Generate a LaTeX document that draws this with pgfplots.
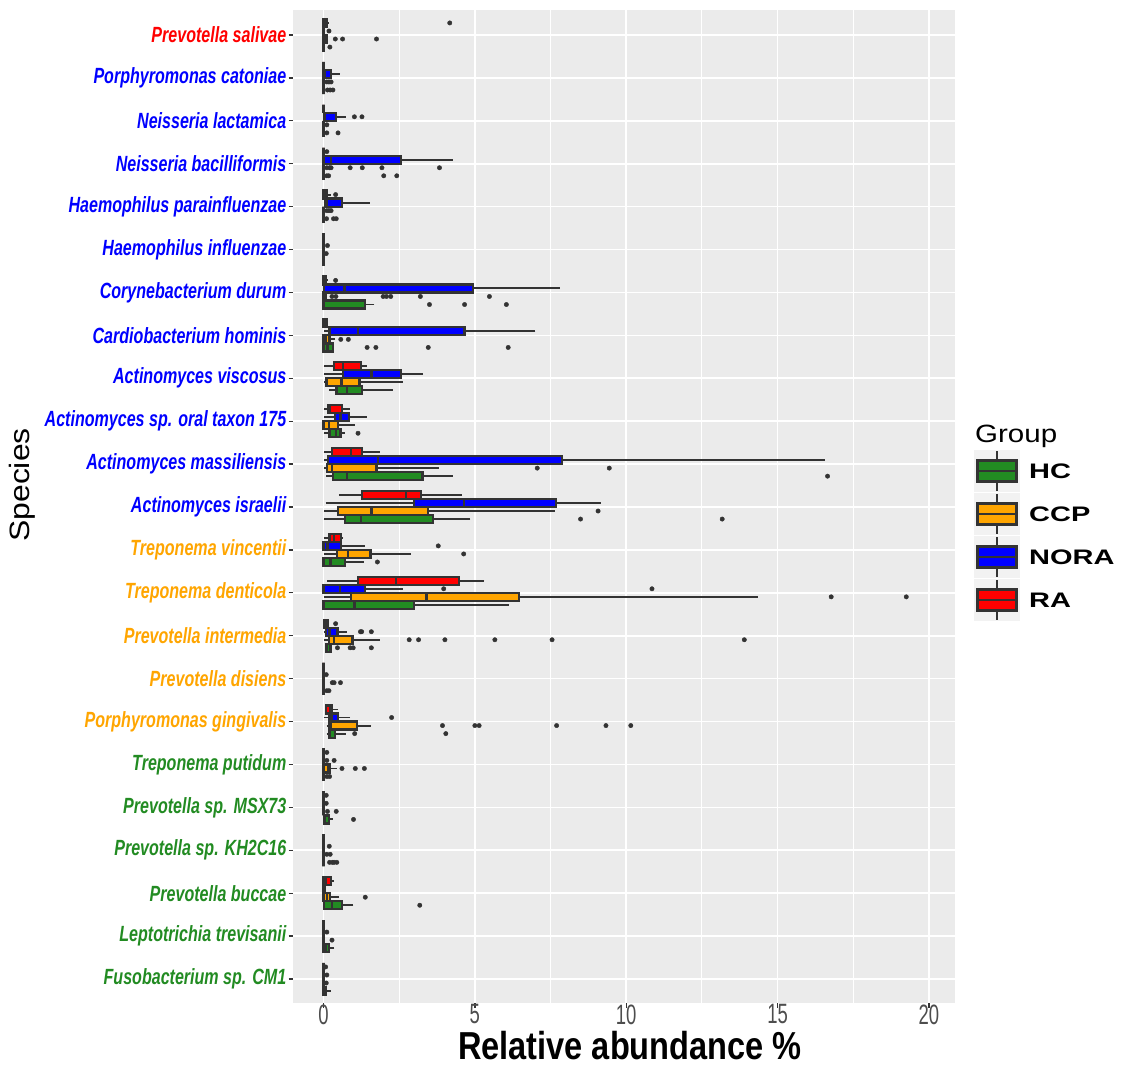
\documentclass[border=0pt]{standalone}
\usepackage{pgfplots}
\usepackage{pgfplotstable}
\pgfplotsset{compat=1.18}
\usepgfplotslibrary{statistics}
\usepackage{fontspec}
\setmainfont{Liberation Sans}
\newfontfamily\labfont[FakeStretch=0.73]{Liberation Sans}
\newfontfamily\tickfont[FakeStretch=0.66]{Liberation Sans}
\newfontfamily\titlefont[FakeStretch=0.835]{Liberation Sans}
\newfontfamily\legfont[FakeStretch=1.38]{Liberation Sans}
\newfontfamily\grpfont[FakeStretch=1.18]{Liberation Sans}
\newfontfamily\specfont[FakeStretch=1.14]{Liberation Sans}
\definecolor{cHC}{HTML}{228B22}
\definecolor{cCCP}{HTML}{FFA500}
\definecolor{cNORA}{HTML}{0000FF}
\definecolor{cRA}{HTML}{FF0000}
\definecolor{dk}{HTML}{333333}
\definecolor{bgc}{HTML}{EBEBEB}
\definecolor{tg}{HTML}{4D4D4D}
\definecolor{keybg}{HTML}{F2F2F2}

\newcommand\bp[7]{\addplot[bxs, fill=#2, boxplot prepared={draw position=#1, lower whisker=#3, lower quartile=#4, median=#5, upper quartile=#6, upper whisker=#7}] coordinates {};}
\newcommand\RA[6]{\bp{#1+0.28125}{cRA}{#2}{#3}{#4}{#5}{#6}}
\newcommand\NO[6]{\bp{#1+0.09375}{cNORA}{#2}{#3}{#4}{#5}{#6}}
\newcommand\CC[6]{\bp{#1-0.09375}{cCCP}{#2}{#3}{#4}{#5}{#6}}
\newcommand\HC[6]{\bp{#1-0.28125}{cHC}{#2}{#3}{#4}{#5}{#6}}

\pgfplotstableread{
x r d
4.17 23 0.28125
0.18 23 0.09375
0.39 23 -0.09375
0.63 23 -0.09375
1.75 23 -0.09375
0.21 23 -0.28125
0.11 22 -0.09375
0.18 22 -0.09375
0.25 22 -0.09375
0.13 22 -0.28125
0.22 22 -0.28125
0.31 22 -0.28125
1.02 21 0.09375
1.27 21 0.09375
0.11 21 -0.09375
0.11 21 -0.28125
0.48 21 -0.28125
0.11 20 0.28125
0.11 20 -0.09375
0.20 20 -0.09375
0.25 20 -0.09375
0.88 20 -0.09375
1.28 20 -0.09375
1.93 20 -0.09375
3.83 20 -0.09375
0.11 20 -0.28125
0.17 20 -0.28125
1.99 20 -0.28125
2.42 20 -0.28125
0.40 19 0.28125
0.11 19 -0.09375
0.18 19 -0.09375
0.25 19 -0.09375
0.10 19 -0.28125
0.33 19 -0.28125
0.42 19 -0.28125
0.13 18 0.09375
0.09 18 -0.09375
0.40 17 0.28125
0.28 17 -0.09375
0.41 17 -0.09375
1.97 17 -0.09375
2.08 17 -0.09375
2.22 17 -0.09375
3.20 17 -0.09375
5.48 17 -0.09375
3.50 17 -0.28125
4.66 17 -0.28125
6.04 17 -0.28125
0.57 16 -0.09375
0.82 16 -0.09375
1.44 16 -0.28125
1.73 16 -0.28125
3.46 16 -0.28125
6.10 16 -0.28125
1.14 14 -0.28125
7.06 13 -0.09375
9.44 13 -0.09375
16.65 13 -0.28125
9.07 12 -0.09375
8.49 12 -0.28125
13.17 12 -0.28125
3.79 11 0.09375
4.63 11 -0.09375
1.78 11 -0.28125
3.97 10 0.09375
10.85 10 0.09375
16.77 10 -0.09375
19.25 10 -0.09375
0.40 9 0.28125
1.22 9 0.09375
1.26 9 0.09375
1.58 9 0.09375
2.83 9 -0.09375
3.14 9 -0.09375
4.01 9 -0.09375
5.66 9 -0.09375
7.55 9 -0.09375
13.90 9 -0.09375
0.46 9 -0.28125
0.88 9 -0.28125
0.98 9 -0.28125
1.58 9 -0.28125
0.09 8 0.09375
0.29 8 -0.09375
0.35 8 -0.09375
0.56 8 -0.09375
0.11 8 -0.28125
0.18 8 -0.28125
2.25 7 0.09375
3.93 7 -0.09375
5.00 7 -0.09375
5.14 7 -0.09375
7.70 7 -0.09375
9.33 7 -0.09375
10.15 7 -0.09375
1.03 7 -0.28125
4.04 7 -0.28125
0.11 6 0.28125
0.11 6 0.09375
0.35 6 0.09375
0.61 6 -0.09375
1.05 6 -0.09375
1.35 6 -0.09375
0.11 6 -0.28125
0.20 6 -0.28125
0.09 5 0.28125
0.09 5 0.09375
0.13 5 -0.09375
0.42 5 -0.09375
0.99 5 -0.28125
0.19 4 0.09375
0.11 4 -0.09375
0.22 4 -0.09375
0.20 4 -0.28125
0.29 4 -0.28125
0.35 4 -0.28125
0.44 4 -0.28125
1.38 3 -0.09375
3.18 3 -0.28125
0.11 2 0.09375
0.28 2 -0.09375
0.07 1 0.28125
0.11 1 0.09375
0.09 1 -0.09375
}\outliers

\begin{document}
\begin{tikzpicture}[x=1pt,y=1pt]
\useasboundingbox (0pt,0pt) rectangle (1131pt,1066pt);
\begin{axis}[
  at={(293pt,63pt)}, anchor=south west,
  width=662pt, height=993pt, scale only axis,
  xmin=-1.008, xmax=20.86, ymin=0.4407, ymax=23.583,
  axis background/.style={fill=bgc},
  axis line style={draw=none},
  grid=both, minor x tick num=1,
  major grid style={white, line width=1.6pt},
  minor grid style={white, line width=0.9pt},
  xtick={0,5,10,15,20}, ytick={1,...,23},
  xtick pos=bottom, ytick pos=left,
  tick align=outside, major tick length=4.5pt, minor tick length=0pt,
  tick style={dk, line width=1.3pt},
  /pgf/number format/assume math mode=true,
  xticklabel style={font=\tickfont\fontsize{28}{28}\selectfont, text=tg, inner sep=0pt, yshift=3pt},
  yticklabel style={font=\labfont\bfseries\itshape\fontsize{22}{22}\selectfont, inner sep=0pt, xshift=-2pt},
  yticklabels={
    \textcolor{cHC}{Fusobacterium sp. CM1},
    \textcolor{cHC}{Leptotrichia trevisanii},
    \textcolor{cHC}{Prevotella buccae},
    \textcolor{cHC}{Prevotella sp. KH2C16},
    \textcolor{cHC}{Prevotella sp. MSX73},
    \textcolor{cHC}{Treponema putidum},
    \textcolor{cCCP}{Porphyromonas gingivalis},
    \textcolor{cCCP}{Prevotella disiens},
    \textcolor{cCCP}{Prevotella intermedia},
    \textcolor{cCCP}{Treponema denticola},
    \textcolor{cCCP}{Treponema vincentii},
    \textcolor{cNORA}{Actinomyces israelii},
    \textcolor{cNORA}{Actinomyces massiliensis},
    \textcolor{cNORA}{Actinomyces sp. oral taxon 175},
    \textcolor{cNORA}{Actinomyces viscosus},
    \textcolor{cNORA}{Cardiobacterium hominis},
    \textcolor{cNORA}{Corynebacterium durum},
    \textcolor{cNORA}{Haemophilus influenzae},
    \textcolor{cNORA}{Haemophilus parainfluenzae},
    \textcolor{cNORA}{Neisseria bacilliformis},
    \textcolor{cNORA}{Neisseria lactamica},
    \textcolor{cNORA}{Porphyromonas catoniae},
    \textcolor{cRA}{Prevotella salivae}},
  boxplot/draw direction=x,
  boxplot/box extend=0.1875,
  boxplot/whisker extend=0,
  boxplot/every box/.style={draw=dk, line width=2.2pt},
  boxplot/every whisker/.style={draw=dk, line width=1.9pt},
  boxplot/every median/.style={draw=dk, line width=2.4pt},
  bxs/.style={draw=dk, line width=2.2pt, solid},
]
% 23 Prevotella salivae
\RA{23}{0}{0}{0.05}{0.1}{0.17}
\NO{23}{0}{0}{0}{0}{0}
\CC{23}{0}{0}{0.05}{0.1}{0.15}
\HC{23}{0}{0}{0}{0.02}{0.05}
% 22 Porphyromonas catoniae
\RA{22}{0}{0}{0}{0}{0}
\NO{22}{0}{0}{0.03}{0.25}{0.55}
\CC{22}{0}{0}{0}{0}{0}
\HC{22}{0}{0}{0}{0}{0}
% 21 Neisseria lactamica
\RA{21}{0}{0}{0}{0}{0}
\NO{21}{0}{0.02}{0.05}{0.4}{0.73}
\CC{21}{0}{0}{0}{0}{0}
\HC{21}{0}{0}{0}{0}{0}
% 20 Neisseria bacilliformis
\RA{20}{0}{0}{0}{0}{0}
\NO{20}{0}{0}{0.24}{2.55}{4.27}
\CC{20}{0}{0}{0}{0}{0}
\HC{20}{0}{0}{0}{0}{0}
% 19 Haemophilus parainfluenzae
\RA{19}{0}{0}{0.08}{0.12}{0.25}
\NO{19}{0}{0.05}{0.1}{0.62}{1.52}
\CC{19}{0}{0}{0}{0}{0}
\HC{19}{0}{0}{0}{0}{0}
% 18 Haemophilus influenzae
\RA{18}{0}{0}{0}{0}{0}
\NO{18}{0}{0}{0}{0}{0}
\CC{18}{0}{0}{0}{0}{0}
\HC{18}{0}{0}{0}{0}{0}
% 17 Corynebacterium durum
\RA{17}{0}{0}{0.03}{0.08}{0.15}
\NO{17}{0}{0.02}{0.69}{4.95}{7.81}
\CC{17}{0}{0}{0.03}{0.08}{0.1}
\HC{17}{0}{0}{0.02}{1.36}{1.68}
% 16 Cardiobacterium hominis
\RA{16}{0}{0}{0.03}{0.1}{0.1}
\NO{16}{0}{0.2}{1.13}{4.66}{7.0}
\CC{16}{0}{0}{0.07}{0.2}{0.39}
\HC{16}{0}{0}{0.13}{0.31}{0.31}
% 15 Actinomyces viscosus
\RA{15}{0}{0.34}{0.64}{1.25}{1.43}
\NO{15}{0}{0.65}{1.58}{2.56}{3.29}
\CC{15}{0.02}{0.1}{0.59}{1.19}{2.62}
\HC{15}{0.18}{0.43}{0.78}{1.27}{2.28}
% 14 Actinomyces sp. oral taxon 175
\RA{14}{0}{0.14}{0.21}{0.62}{0.86}
\NO{14}{0}{0.39}{0.56}{0.84}{1.43}
\CC{14}{0}{0}{0.18}{0.48}{1.03}
\HC{14}{0}{0.2}{0.42}{0.56}{0.7}
% 13 Actinomyces massiliensis
\RA{13}{0}{0.29}{0.9}{1.26}{1.86}
\NO{13}{0}{0.15}{1.79}{7.87}{16.56}
\CC{13}{0}{0.11}{0.28}{1.75}{3.82}
\HC{13}{0.09}{0.31}{0.77}{3.27}{4.27}
% 12 Actinomyces israelii
\RA{12}{0.51}{1.28}{2.72}{3.22}{4.57}
\NO{12}{0.07}{2.99}{4.64}{7.67}{9.15}
\CC{12}{0}{0.48}{1.59}{3.44}{7.64}
\HC{12}{0}{0.72}{1.24}{3.62}{4.85}
% 11 Treponema vincentii
\RA{11}{0}{0.2}{0.34}{0.57}{0.66}
\NO{11}{0}{0}{0.13}{0.57}{1.36}
\CC{11}{0}{0.44}{0.81}{1.55}{2.88}
\HC{11}{0}{0}{0.23}{0.7}{1.33}
% 10 Treponema denticola
\RA{10}{0.11}{1.13}{2.39}{4.48}{5.31}
\NO{10}{0}{0}{0.55}{1.36}{2.62}
\CC{10}{0}{0.91}{3.40}{6.46}{14.35}
\HC{10}{0}{0}{1.02}{2.99}{6.14}
% 9 Prevotella intermedia
\RA{9}{0}{0.02}{0.05}{0.13}{0.13}
\NO{9}{0}{0.09}{0.2}{0.46}{0.76}
\CC{9}{0}{0.17}{0.35}{0.96}{1.86}
\HC{9}{0.05}{0.08}{0.12}{0.23}{0.23}
% 8 Prevotella disiens
\RA{8}{0}{0}{0}{0}{0}
\NO{8}{0}{0}{0}{0}{0}
\CC{8}{0}{0}{0}{0}{0}
\HC{8}{0}{0}{0}{0}{0}
% 7 Porphyromonas gingivalis
\RA{7}{0.09}{0.09}{0.22}{0.29}{0.48}
\NO{7}{0}{0.18}{0.27}{0.49}{0.88}
\CC{7}{0.1}{0.18}{0.24}{1.1}{1.58}
\HC{7}{0.1}{0.18}{0.22}{0.38}{0.73}
% 6 Treponema putidum
\RA{6}{0}{0}{0}{0}{0}
\NO{6}{0}{0}{0}{0}{0}
\CC{6}{0}{0}{0.15}{0.22}{0.44}
\HC{6}{0}{0}{0}{0}{0}
% 5 Prevotella sp. MSX73
\RA{5}{0}{0}{0}{0}{0}
\NO{5}{0}{0}{0}{0}{0}
\CC{5}{0}{0}{0}{0}{0}
\HC{5}{0}{0.02}{0.04}{0.18}{0.31}
% 4 Prevotella sp. KH2C16
\RA{4}{0}{0}{0}{0}{0}
\NO{4}{0}{0}{0}{0}{0}
\CC{4}{0}{0}{0}{0}{0}
\HC{4}{0}{0}{0}{0}{0}
% 3 Prevotella buccae
\RA{3}{0}{0}{0.09}{0.24}{0.33}
\NO{3}{0}{0}{0}{0.05}{0.05}
\CC{3}{0}{0}{0.11}{0.22}{0.52}
\HC{3}{0}{0.02}{0.29}{0.62}{0.99}
% 2 Leptotrichia trevisanii
\RA{2}{0}{0}{0}{0}{0}
\NO{2}{0}{0}{0}{0}{0}
\CC{2}{0}{0}{0}{0}{0}
\HC{2}{0}{0}{0.08}{0.18}{0.36}
% 1 Fusobacterium sp. CM1
\RA{1}{0}{0}{0}{0}{0}
\NO{1}{0}{0}{0}{0}{0}
\CC{1}{0}{0}{0}{0}{0}
\HC{1}{0}{0}{0.02}{0.07}{0.24}
% outliers
\addplot[only marks, mark=*, mark size=2.2pt, color=dk] table[x=x, y expr=\thisrow{r}+\thisrow{d}] {\outliers};
\end{axis}
% axis titles
\node[anchor=base, inner sep=0pt, font=\titlefont\bfseries\fontsize{39}{39}\selectfont] at (630pt,7pt) {Relative abundance \%};
\node[rotate=90, inner sep=0pt, font=\specfont\fontsize{28}{28}\selectfont] at (22.5pt,581pt) {Species};
% legend
\node[anchor=base west, inner sep=0pt, font=\grpfont\fontsize{25}{25}\selectfont] at (975pt,623pt) {Group};
\foreach \yy/\cc/\nm in {595/cHC/HC, 552/cCCP/CCP, 509/cNORA/NORA, 466/cRA/RA}{
  \fill[keybg] (974pt,\yy pt-21pt) rectangle (1020pt,\yy pt+21pt);
  \draw[dk, line width=1.8pt] (997pt,\yy pt-20pt) -- (997pt,\yy pt+20pt);
  \draw[dk, line width=2.4pt, fill=\cc] (977.5pt,\yy pt-10.5pt) rectangle (1016.5pt,\yy pt+10.5pt);
  \draw[dk, line width=2.4pt] (977.5pt,\yy pt) -- (1016.5pt,\yy pt);
  \node[anchor=west, inner sep=0pt, font=\legfont\bfseries\fontsize{21}{21}\selectfont] at (1029pt,\yy pt) {\nm};
}
\end{tikzpicture}
\end{document}
